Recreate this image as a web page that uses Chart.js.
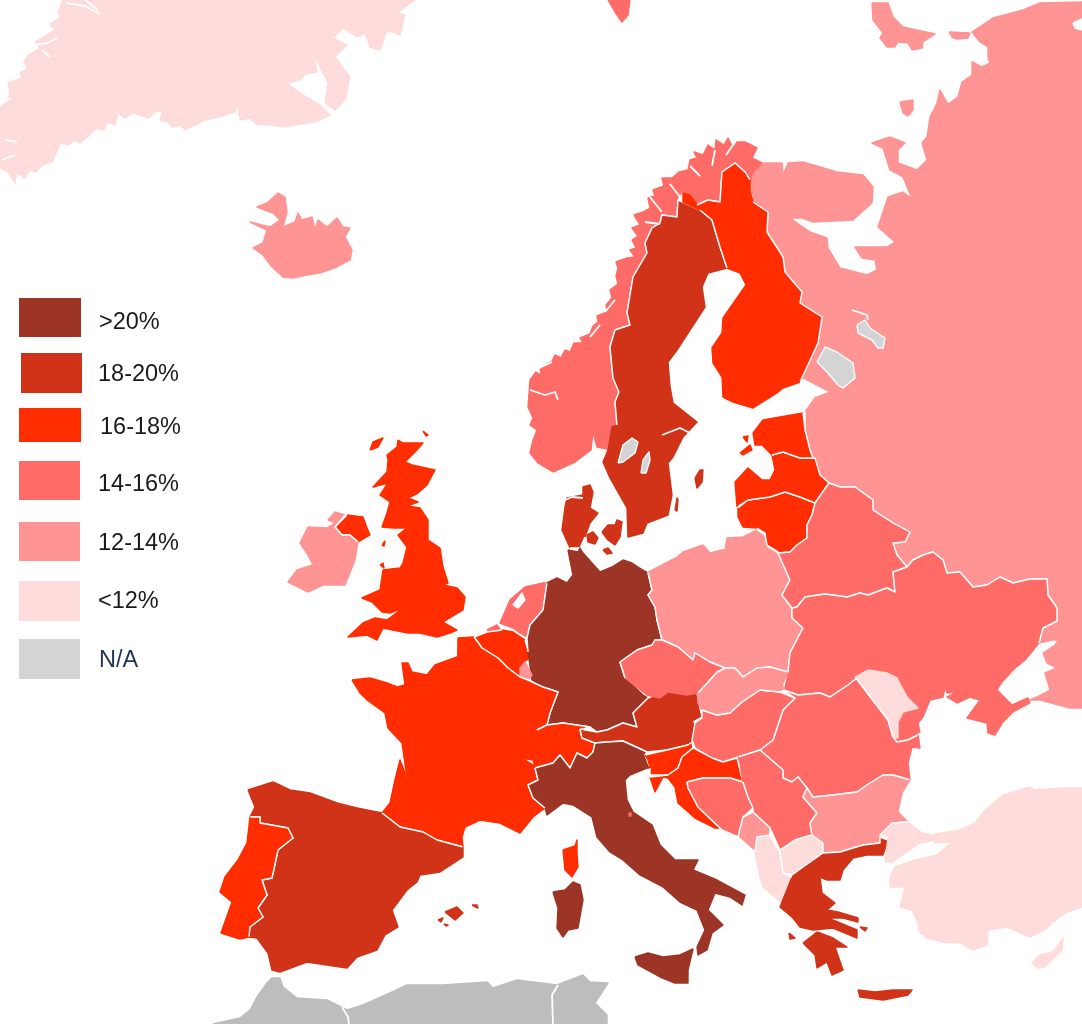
<!DOCTYPE html>
<html>
<head>
<meta charset="utf-8">
<style>
  body { margin: 0; background: #fff; }
  #wrap { position: relative; width: 1082px; height: 1024px; overflow: hidden; }
  canvas { position: absolute; left: 0; top: 0; }
  .swatch { position: absolute; }
  .label { position: absolute; font: 23.5px "Liberation Sans", Arial, sans-serif; color: #1a1a1a; transform: translateY(-50%); white-space: nowrap; }
</style>
</head>
<body>
<div id="wrap"><canvas id="map" width="1082" height="1024"></canvas></div>
<script src="https://cdn.jsdelivr.net/npm/chart.js@4/dist/chart.umd.js"></script>
<script>
// legend
const bandLabels = ['>20%', '18-20%', '16-18%', '14-16%', '12-14%', '<12%', 'N/A'];
const bandColors = ['#9c3526', '#d03318', '#ff2d00', '#ff6c68', '#ff9494', '#ffdcdc', '#d4d4d4'];
const africaColor = '#bdbdbd';

// outlines, in map units
const greenland = [[63,0],[58,12],[60,18],[50,24],[55,30],[35,42],[40,48],[28,55],[24,62],[28,68],[20,73],[22,78],[8,83],[10,92],[8,100],[2,105],[0,110],[0,168],[8,172],[15,183],[17,172],[24,178],[30,170],[36,172],[42,165],[52,162],[58,150],[60,143],[68,145],[74,140],[80,143],[90,135],[96,128],[104,130],[107,122],[115,125],[118,113],[125,118],[133,113],[140,115],[148,118],[155,112],[163,110],[160,120],[168,122],[172,127],[180,125],[185,130],[195,125],[205,120],[215,118],[225,115],[235,112],[237,102],[240,120],[250,118],[256,124],[270,125],[285,127],[300,124],[315,122],[330,115],[320,105],[300,93],[287,83],[300,80],[305,74],[317,72],[313,50],[320,67],[328,83],[325,103],[335,110],[345,100],[350,77],[335,57],[347,45],[333,38],[343,28],[357,37],[365,33],[370,47],[380,50],[387,30],[400,35],[405,15],[397,13],[415,0]];
const iceland = [[253,248],[263,243],[267,230],[250,222],[270,227],[280,220],[273,213],[257,207],[267,203],[278,193],[285,197],[287,212],[283,227],[295,222],[298,213],[302,220],[312,217],[315,230],[318,220],[327,227],[337,218],[343,227],[350,228],[345,237],[352,250],[350,260],[337,267],[320,273],[307,275],[293,278],[283,277],[272,267],[263,255]];
const svalbard = [[608,0],[630,0],[628,15],[622,22],[615,12]];
const russia = [[1082,2],[1040,3],[1023,10],[993,18],[972,32],[980,42],[988,47],[988,57],[990,63],[982,67],[973,62],[972,75],[962,82],[958,97],[948,104],[940,90],[937,103],[930,117],[927,137],[922,143],[927,160],[917,170],[898,163],[898,150],[905,143],[890,137],[872,143],[883,148],[890,170],[903,177],[912,199],[903,192],[888,197],[878,227],[895,242],[887,247],[855,247],[862,258],[875,260],[877,270],[867,275],[840,268],[828,248],[827,238],[810,232],[790,218],[802,218],[813,222],[853,220],[872,203],[873,187],[863,175],[837,172],[803,162],[788,163],[783,175],[782,163],[763,163],[752,170],[750,173],[747,188],[753,203],[768,213],[767,232],[783,257],[785,273],[793,283],[802,290],[800,303],[822,317],[818,343],[798,383],[803,378],[830,392],[815,398],[805,412],[805,430],[810,450],[813,458],[820,475],[829,483],[840,487],[855,487],[873,500],[873,510],[893,523],[910,532],[905,542],[893,543],[897,555],[907,567],[913,560],[923,555],[933,552],[943,560],[947,573],[960,572],[973,587],[987,585],[1000,577],[1013,583],[1030,579],[1047,579],[1048,595],[1057,608],[1057,621],[1043,628],[1039,643],[1052,640],[1058,640],[1055,645],[1043,653],[1047,663],[1057,668],[1045,673],[1050,690],[1037,697],[1030,700],[1040,700],[1070,708],[1082,708]];
const kanin = [[872,3],[888,3],[893,17],[903,27],[935,34],[923,42],[922,48],[912,50],[908,43],[898,42],[895,47],[887,47],[880,38],[883,33],[873,20]];
const vaygach = [[949,32],[970,33],[968,38],[957,39],[952,37]];
const kolguev = [[900,102],[913,100],[913,110],[908,116],[903,113]];
const kaliningrad = [[725,550],[727,538],[743,537],[757,530],[765,535],[767,546]];
const norway = [[612,450],[597,447],[593,432],[591,450],[575,462],[553,472],[538,463],[530,453],[533,440],[537,430],[530,425],[533,418],[528,407],[530,380],[536,372],[541,375],[540,368],[552,361],[555,355],[561,358],[565,350],[570,352],[574,343],[583,343],[580,338],[590,334],[593,326],[598,322],[597,316],[607,312],[606,305],[612,298],[610,290],[618,284],[616,276],[618,268],[616,262],[627,258],[635,257],[630,250],[636,248],[632,240],[638,236],[632,228],[640,225],[634,215],[643,212],[650,208],[648,198],[655,196],[653,190],[664,186],[662,178],[672,178],[679,172],[688,170],[690,160],[697,158],[694,152],[703,155],[708,145],[715,150],[716,140],[724,145],[728,138],[733,148],[737,142],[745,142],[757,148],[752,158],[762,163],[753,173],[750,180],[745,172],[735,163],[722,172],[720,202],[708,200],[697,205],[683,193],[678,200],[677,217],[662,215],[660,223],[652,228],[645,243],[647,253],[633,277],[627,313],[630,325],[615,330],[610,347],[613,378],[619,392],[615,402],[617,425]];
const sweden = [[678,200],[700,210],[712,220],[720,247],[727,268],[708,273],[702,287],[705,307],[690,330],[677,350],[668,362],[670,387],[673,403],[697,422],[683,437],[673,457],[668,463],[672,495],[668,515],[647,523],[643,533],[628,537],[627,508],[610,478],[603,462],[608,450],[612,427],[617,425],[615,402],[619,392],[613,378],[610,347],[615,330],[630,325],[627,313],[633,277],[647,253],[645,243],[652,228],[660,223],[662,215],[677,217]];
const gotland = [[695,478],[700,470],[703,470],[702,482],[697,488]];
const oland = [[675,510],[677,498],[678,499],[677,511]];
const finland = [[735,163],[745,172],[750,180],[750,192],[753,202],[768,212],[767,232],[783,257],[785,272],[802,292],[800,303],[822,317],[818,343],[800,382],[783,388],[777,393],[753,408],[733,402],[723,397],[722,377],[713,363],[712,348],[722,333],[723,318],[737,298],[746,285],[740,273],[727,268],[720,247],[712,220],[700,210],[683,202],[683,193],[690,195],[697,205],[708,200],[720,202],[722,172]];
const jutland = [[570,548],[562,530],[565,507],[567,498],[583,495],[583,487],[590,485],[593,492],[590,508],[598,513],[590,523],[585,537],[580,548]];
const funen = [[587,535],[593,532],[598,538],[595,544],[588,542]];
const zealand = [[602,532],[608,525],[615,525],[617,520],[622,522],[620,537],[615,545],[608,540]];
const lolland = [[603,550],[608,548],[612,553],[607,554]];
const germany = [[568,550],[578,552],[580,548],[583,553],[600,572],[612,567],[623,560],[632,563],[638,567],[648,573],[652,590],[648,595],[655,607],[657,620],[662,640],[655,640],[652,645],[637,650],[620,662],[625,678],[643,695],[648,698],[633,713],[637,727],[623,723],[607,730],[597,732],[590,727],[563,723],[547,725],[550,713],[558,692],[543,687],[532,680],[528,652],[527,638],[530,625],[543,610],[547,583],[557,578],[567,583],[573,575]];
const netherlands = [[547,583],[543,610],[530,625],[527,637],[520,633],[513,628],[500,623],[510,600],[525,587],[543,583]];
const zeeland = [[487,630],[497,625],[502,632],[493,633]];
const ijsselmeer = [[513,605],[522,593],[525,600],[518,608]];
const belgium = [[474,637],[487,632],[502,630],[513,632],[525,640],[528,650],[530,658],[522,663],[520,677],[508,668],[498,658],[482,648]];
const luxembourg = [[525,662],[532,675],[528,680],[520,677],[520,668]];
const france = [[352,680],[370,678],[387,683],[397,687],[405,685],[402,663],[408,663],[412,672],[427,675],[435,665],[457,657],[458,638],[474,637],[482,648],[498,658],[508,668],[520,677],[528,680],[543,687],[558,692],[550,713],[547,725],[537,730],[522,758],[533,765],[535,768],[538,780],[528,785],[533,798],[545,808],[533,817],[520,833],[500,823],[480,820],[465,827],[462,837],[463,847],[437,840],[423,832],[400,827],[382,813],[390,803],[395,780],[400,760],[407,778],[402,743],[388,728],[385,713],[367,700],[360,693]];
const corsica = [[563,850],[575,846],[577,840],[577,853],[578,867],[572,877],[565,870]];
const switzerland = [[537,730],[547,725],[563,723],[590,727],[580,730],[582,738],[595,743],[593,752],[587,758],[577,753],[570,768],[560,755],[553,763],[535,768],[533,760],[520,758],[528,743]];
const austria = [[580,729],[597,732],[607,730],[623,723],[637,727],[633,713],[648,698],[667,690],[682,692],[697,693],[702,717],[693,722],[695,740],[688,745],[667,750],[647,752],[623,741],[607,742],[595,743],[582,738]];
const italy = [[535,768],[553,763],[560,755],[570,768],[577,753],[587,758],[593,752],[595,743],[607,742],[623,741],[647,752],[645,755],[650,768],[647,768],[630,775],[625,780],[627,800],[633,812],[652,825],[660,845],[675,860],[698,860],[693,870],[717,880],[745,895],[742,905],[730,897],[715,893],[708,910],[723,925],[712,933],[707,950],[698,955],[697,947],[705,930],[697,910],[680,902],[663,887],[640,875],[623,860],[610,852],[597,837],[592,817],[573,805],[563,803],[547,815],[545,808],[533,798],[528,785],[538,780]];
const sicily = [[635,957],[648,953],[663,957],[680,955],[693,949],[688,970],[688,983],[675,983],[660,977],[638,965]];
const sardinia = [[553,892],[565,890],[573,882],[580,885],[583,900],[578,928],[568,930],[563,937],[557,928],[558,908]];
const sanMarino = [[629,813],[631,813],[631,816],[629,816]];
const britain = [[398,440],[403,443],[423,443],[415,452],[405,462],[412,465],[435,470],[427,485],[418,493],[408,498],[418,502],[407,506],[420,508],[428,520],[428,540],[440,548],[443,567],[448,583],[443,585],[457,588],[465,597],[463,610],[443,622],[457,630],[450,633],[437,637],[420,633],[408,633],[383,628],[377,640],[367,635],[348,637],[363,623],[375,618],[387,620],[403,608],[390,613],[382,612],[372,602],[362,598],[380,590],[383,570],[400,568],[403,563],[407,547],[398,535],[407,528],[393,528],[382,527],[387,513],[390,502],[380,495],[388,483],[373,487],[387,472],[388,460],[387,455],[397,447]];
const northernIreland = [[335,527],[347,515],[363,517],[367,528],[370,535],[358,542],[350,535],[342,535]];
const ireland = [[328,520],[335,512],[345,515],[335,527],[342,535],[350,535],[358,542],[355,560],[345,585],[323,585],[308,592],[288,582],[297,570],[313,565],[308,555],[300,543],[308,527],[327,528],[335,523]];
const lewis = [[370,450],[373,442],[383,438],[378,447]];
const shetland = [[423,431],[428,435],[426,436]];
const anglesey = [[380,565],[383,563],[384,568]];
const man = [[382,545],[385,541],[384,546]];
const spain = [[248,790],[273,782],[290,790],[310,793],[337,803],[357,808],[382,813],[400,827],[423,832],[437,840],[463,847],[463,857],[440,872],[420,875],[417,882],[407,890],[392,910],[398,927],[385,935],[377,950],[357,957],[347,968],[327,965],[307,962],[280,972],[272,970],[268,953],[257,938],[248,937],[250,927],[263,917],[258,908],[267,895],[262,880],[272,878],[278,850],[293,838],[288,828],[260,823],[260,817],[250,817],[255,807]];
const portugal = [[250,817],[260,817],[260,823],[288,828],[293,838],[278,850],[272,878],[262,880],[267,895],[258,908],[263,917],[250,927],[249,937],[240,939],[221,933],[232,902],[220,892],[225,877],[238,860],[247,843]];
const mallorca = [[445,912],[457,907],[463,913],[455,920]];
const menorca = [[472,905],[478,908],[477,905]];
const ibiza = [[438,920],[443,918],[441,922]];
const formentera = [[444,924],[448,925],[446,926]];
const northAfrica = [[213,1024],[240,1018],[250,1010],[257,997],[267,983],[272,978],[280,978],[283,987],[297,998],[327,1000],[347,1010],[363,1005],[390,993],[407,985],[443,985],[487,982],[493,988],[517,980],[533,982],[557,985],[583,975],[590,982],[608,983],[595,1003],[607,1015],[607,1024]];
const poland = [[648,572],[677,557],[683,552],[703,545],[710,553],[722,550],[767,546],[778,553],[790,580],[782,595],[792,608],[792,618],[803,628],[790,653],[788,672],[770,667],[757,668],[743,677],[735,668],[725,668],[710,662],[695,653],[693,660],[678,647],[662,640],[657,620],[655,607],[648,595],[652,590]];
const lithuania = [[738,508],[748,500],[770,497],[785,492],[800,497],[815,503],[812,515],[807,525],[807,538],[797,545],[790,552],[780,553],[767,545],[765,533],[757,528],[743,527],[738,517]];
const latvia = [[735,482],[748,468],[762,480],[770,480],[775,470],[772,455],[783,452],[800,458],[815,458],[820,475],[829,483],[815,503],[800,497],[785,492],[770,497],[748,500],[737,507]];
const estonia = [[753,433],[763,420],[803,413],[805,430],[810,450],[813,458],[800,458],[783,452],[772,455],[762,445],[755,445]];
const saaremaa = [[740,453],[750,445],[752,450],[743,455]];
const hiiumaa = [[743,437],[748,436],[747,442]];
const belarus = [[792,608],[782,595],[790,580],[778,553],[790,552],[797,545],[807,538],[807,525],[812,515],[815,503],[829,483],[840,487],[855,487],[873,500],[873,510],[893,523],[910,532],[905,542],[893,543],[897,555],[907,567],[893,572],[895,592],[887,588],[868,595],[860,593],[847,597],[825,594],[805,597],[797,607]];
const ukraine = [[792,608],[797,607],[805,597],[825,594],[847,597],[860,593],[868,595],[887,588],[895,592],[893,572],[907,567],[913,560],[923,555],[933,552],[943,560],[947,573],[960,572],[973,587],[987,585],[1000,577],[1013,583],[1030,579],[1047,579],[1048,595],[1057,608],[1057,621],[1043,628],[1039,643],[1025,660],[1013,670],[1002,682],[997,690],[1012,705],[1028,698],[1030,703],[1013,712],[1003,722],[995,735],[988,733],[987,723],[967,718],[980,700],[970,697],[957,703],[947,697],[958,692],[947,693],[945,687],[943,697],[930,700],[923,717],[918,723],[920,733],[918,735],[908,740],[897,742],[893,737],[888,720],[865,690],[857,678],[848,685],[830,697],[820,693],[798,695],[783,690],[787,672],[788,672],[790,653],[803,628],[792,618]];
const moldova = [[855,677],[868,670],[887,673],[897,678],[907,697],[918,708],[903,712],[898,722],[898,738],[893,737],[888,720],[865,690]];
const romania = [[783,690],[798,695],[820,693],[830,697],[848,685],[857,678],[865,690],[888,720],[893,737],[897,742],[908,740],[918,735],[920,748],[912,747],[908,763],[910,780],[893,775],[883,775],[867,785],[857,792],[833,795],[813,797],[807,788],[798,777],[792,782],[783,778],[783,770],[768,757],[760,750],[773,740],[783,710],[795,698]];
const hungary = [[702,710],[717,715],[730,713],[742,702],[760,690],[780,692],[795,698],[783,710],[773,740],[760,750],[738,757],[723,762],[712,758],[695,748],[692,740],[695,723],[702,718]];
const slovakia = [[698,693],[717,672],[725,668],[735,668],[743,677],[757,668],[770,667],[788,672],[782,685],[785,690],[780,692],[760,690],[742,702],[730,713],[717,715],[702,710],[698,703]];
const czechia = [[620,662],[637,650],[652,645],[655,640],[662,640],[678,647],[693,660],[695,653],[710,662],[725,668],[717,672],[698,693],[687,695],[668,692],[660,698],[647,695],[625,678]];
const slovenia = [[645,755],[667,750],[688,745],[692,742],[693,748],[682,757],[678,768],[668,775],[650,775],[650,768],[648,760]];
const croatia = [[693,748],[712,758],[723,762],[737,758],[743,782],[730,778],[703,778],[687,782],[688,788],[698,807],[720,828],[715,828],[695,818],[678,803],[675,787],[668,778],[663,777],[655,792],[650,777],[668,775],[678,768],[682,757]];
const bosnia = [[687,782],[703,778],[730,778],[743,782],[748,797],[753,808],[743,817],[738,837],[722,830],[698,807],[688,788]];
const serbia = [[738,757],[760,750],[768,757],[783,770],[783,778],[792,782],[798,777],[807,788],[803,797],[817,813],[810,823],[812,835],[795,840],[780,850],[770,828],[753,812],[753,808],[748,797],[743,782],[740,763]];
const montenegro = [[743,817],[753,812],[770,828],[770,835],[757,837],[755,852],[738,837]];
const albania = [[757,837],[770,835],[778,850],[780,863],[792,877],[782,903],[775,897],[763,887],[760,877],[755,852]];
const macedonia = [[780,850],[795,840],[812,835],[823,843],[823,853],[803,867],[792,875],[783,873]];
const bulgaria = [[910,780],[893,775],[883,775],[867,785],[857,792],[833,795],[813,797],[807,788],[803,797],[817,813],[810,823],[812,835],[823,843],[823,853],[840,852],[863,845],[880,843],[880,837],[888,838],[892,823],[908,822],[898,812],[902,793]];
const greece = [[823,853],[840,852],[863,845],[880,843],[880,837],[888,840],[883,855],[867,855],[853,858],[843,870],[840,880],[827,880],[820,877],[822,893],[835,903],[827,910],[838,912],[858,918],[858,922],[843,918],[828,918],[857,930],[857,938],[833,928],[813,930],[800,927],[793,918],[780,907],[792,877],[783,873],[792,875],[803,867]];
const peloponnese = [[803,943],[817,932],[833,938],[847,947],[835,947],[843,970],[832,975],[827,962],[817,968],[815,955]];
const crete = [[858,990],[875,992],[893,990],[912,990],[908,995],[883,1000],[860,997]];
const lesbos = [[860,927],[867,928],[865,931]];
const kefalonia = [[789,933],[795,938],[790,939]];
const thrace = [[892,823],[908,822],[922,833],[933,835],[935,840],[920,843],[905,853],[893,862],[885,862],[888,838],[880,835]];
const anatolia = [[935,834],[960,830],[975,823],[985,810],[1003,795],[1030,787],[1035,790],[1060,788],[1082,788],[1082,907],[1067,912],[1053,922],[1045,930],[1030,937],[1007,927],[988,930],[987,945],[973,950],[960,943],[943,942],[927,938],[920,933],[918,923],[912,910],[900,907],[905,887],[890,887],[890,877],[895,867],[915,860],[937,855],[952,842],[935,843]];
const cyprus = [[1032,963],[1040,955],[1053,952],[1063,938],[1062,950],[1045,967],[1037,968]];

// inland water
const ladoga = [[817,362],[825,347],[837,352],[853,363],[855,378],[843,388],[838,385],[828,373]];
const onega = [[857,325],[865,320],[870,328],[885,338],[883,348],[878,348],[872,340],[858,333]];
const vanern = [[618,463],[623,445],[632,438],[638,442],[635,453],[623,462]];
const vattern = [[641,473],[643,460],[649,452],[650,460],[646,473]];
const barentsNotch = [[1073,23],[1082,19],[1082,30],[1075,28]];

// thin white cuts: fjords, borders in Africa
const whiteLines = [
  [[342,1007],[348,1017],[349,1024]], [[558,985],[552,995],[553,1024]],
  [[852,310],[867,315],[868,320]], [[565,500],[572,497],[583,498]],
  [[530,390],[545,395],[555,392],[558,400]], [[645,222],[660,224]], [[650,197],[662,212]],
  [[670,184],[680,197]], [[690,166],[700,176]], [[715,150],[712,166]], [[735,142],[726,155]],
  [[590,337],[600,325]], [[605,312],[615,300]], [[535,370],[552,362]],
  [[662,435],[680,428],[690,433]],
  [[33,45],[48,43],[58,37]], [[42,50],[50,57]], [[67,3],[85,6],[100,14]], [[85,0],[98,10]],
  [[0,105],[10,98]], [[5,140],[17,142]], [[2,160],[15,155]]
];

const regions = [
  [greenland, 5], [iceland, 4], [svalbard, 3],
  [russia, 4], [kanin, 4], [vaygach, 4], [kolguev, 4], [kaliningrad, 4],
  [norway, 3], [sweden, 1], [gotland, 1], [oland, 1], [finland, 2],
  [jutland, 1], [funen, 1], [zealand, 1], [lolland, 1],
  [netherlands, 3], [zeeland, 3], [belgium, 2], [germany, 0], [luxembourg, 4],
  [france, 2], [corsica, 2], [switzerland, 2], [austria, 1],
  [italy, 0], [sicily, 0], [sardinia, 0], [sanMarino, 3],
  [britain, 2], [northernIreland, 2], [ireland, 4], [lewis, 2], [shetland, 2], [anglesey, 2], [man, 2],
  [spain, 1], [portugal, 2], [mallorca, 1], [menorca, 1], [ibiza, 1], [formentera, 1],
  [poland, 4], [lithuania, 2], [latvia, 2], [estonia, 2], [saaremaa, 2], [hiiumaa, 2],
  [belarus, 3], [ukraine, 3], [romania, 3], [moldova, 5], [hungary, 3], [slovakia, 4], [czechia, 3],
  [slovenia, 2], [croatia, 2], [bosnia, 3], [serbia, 3], [montenegro, 4], [albania, 5], [macedonia, 5],
  [bulgaria, 4], [greece, 1], [peloponnese, 1], [crete, 1], [lesbos, 1], [kefalonia, 1],
  [thrace, 5], [anatolia, 5], [cyprus, 5]
];
const grayWater = [ladoga, onega, vanern, vattern];
const whiteWater = [ijsselmeer, barentsNotch];

function toPoints(outline, closed) {
  const pts = outline.map(p => ({ x: p[0], y: p[1] }));
  if (closed) pts.push(pts[0]);
  return pts;
}

// a vertex counts as a land border when another region has a vertex on it
function nearOther(p, own) {
  return regions.some(r => r[0] !== own && r[0].some(q => Math.abs(q[0] - p[0]) < 3 && Math.abs(q[1] - p[1]) < 3));
}

function shape(outline, color, allWhite) {
  const shared = outline.map(p => allWhite || nearOther(p, outline));
  shared.push(shared[0]);
  return {
    data: toPoints(outline, true),
    backgroundColor: color,
    borderColor: color,
    borderWidth: 1.4,
    closedFill: true,
    segment: {
      borderColor: ctx => (shared[ctx.p0DataIndex] && shared[ctx.p1DataIndex] ? '#fff' : color)
    }
  };
}

const datasets = [];
datasets.push(shape(northAfrica, africaColor, false));
regions.forEach(r => datasets.push(shape(r[0], bandColors[r[1]], false)));
grayWater.forEach(w => datasets.push(shape(w, bandColors[6], true)));
whiteWater.forEach(w => datasets.push(shape(w, '#fff', true)));
whiteLines.forEach(l => datasets.push({ data: toPoints(l, false), borderColor: '#fff', borderWidth: 1.8 }));
// Chart.js paints the first dataset last, so flip to get lakes and cuts on top
datasets.reverse();

// scatter lines have no closed fill of their own, so paint it under each outline
const closedFill = {
  id: 'closedFill',
  beforeDatasetDraw(chart, args) {
    const ds = chart.data.datasets[args.index];
    if (!ds.closedFill) return;
    const pts = args.meta.data;
    const c = chart.ctx;
    c.save();
    c.beginPath();
    pts.forEach((p, i) => (i ? c.lineTo(p.x, p.y) : c.moveTo(p.x, p.y)));
    c.closePath();
    c.fillStyle = ds.backgroundColor;
    c.fill();
    c.restore();
  }
};

new Chart(document.getElementById('map').getContext('2d'), {
  type: 'scatter',
  data: { datasets },
  options: {
    responsive: false,
    animation: false,
    layout: { padding: 0 },
    showLine: true,
    elements: { point: { radius: 0, hoverRadius: 0 }, line: { tension: 0, borderJoinStyle: 'round' } },
    scales: {
      x: { type: 'linear', min: 0, max: 1082, display: false },
      y: { type: 'linear', min: 0, max: 1024, reverse: true, display: false }
    },
    plugins: { legend: { display: false }, tooltip: { enabled: false } }
  },
  plugins: [closedFill]
});

// legend boxes are not quite aligned in the original
const boxX = [19, 21, 19, 19, 19, 19, 19];
const boxY = [298, 353, 408, 461, 522, 581, 639];
const boxW = [62, 61, 62, 61, 61, 61, 61];
const boxH = [39, 40, 34, 39, 39, 40, 40];
const textX = [99, 98, 100, 98, 98, 98, 99];
const textY = [321, 373, 426, 483, 542, 600, 659];
const wrap = document.getElementById('wrap');
bandLabels.forEach((t, i) => {
  const s = document.createElement('div');
  s.className = 'swatch';
  s.style.cssText = `left:${boxX[i]}px;top:${boxY[i]}px;width:${boxW[i]}px;height:${boxH[i]}px;background:${bandColors[i]}`;
  wrap.appendChild(s);
  const l = document.createElement('div');
  l.className = 'label';
  l.textContent = t;
  l.style.left = textX[i] + 'px';
  l.style.top = textY[i] + 'px';
  if (t === 'N/A') l.style.color = '#1f3350';
  wrap.appendChild(l);
});
</script>
</body>
</html>
